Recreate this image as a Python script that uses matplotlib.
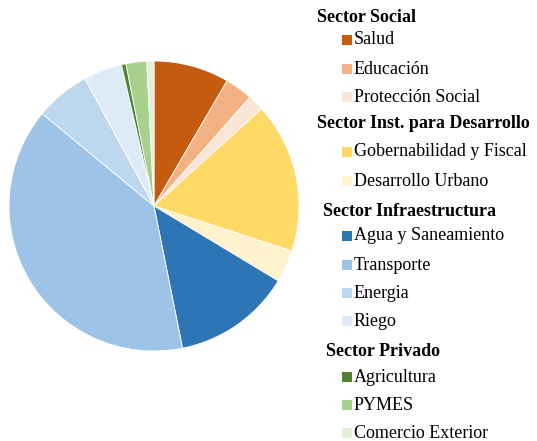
import matplotlib
matplotlib.use("Agg")
import matplotlib.pyplot as plt
from matplotlib.patches import Rectangle

# sector groups and their subsectors (shares in %)
groups = ["Sector Social", "Sector Inst. para Desarrollo", "Sector Infraestructura", "Sector Privado"]
labels = [
    ["Salud", "Educación", "Protección Social"],
    ["Gobernabilidad y Fiscal", "Desarrollo Urbano"],
    ["Agua y Saneamiento", "Transporte", "Energia", "Riego"],
    ["Agricultura", "PYMES", "Comercio Exterior"],
]
values = [
    [8.4, 3.1, 1.8],
    [16.7, 3.6],
    [13.2, 39.1, 6.1, 4.3],
    [0.5, 2.3, 0.8],
]
colors = [
    ["#C55A11", "#F4B183", "#FBE5D6"],
    ["#FFD966", "#FFF2CC"],
    ["#2E75B6", "#9DC3E6", "#BDD7EE", "#DEEBF7"],
    ["#548235", "#A9D18E", "#E2F0D9"],
]

plt.rcParams['font.family'] = ['Liberation Serif', 'DejaVu Serif']

W, H = 537, 441
fig = plt.figure(figsize=(W / 100, H / 100), dpi=100)

# pie axes: center (154, 206) px, radius ~145 px
cx, cy, r = 154, 206, 145
ax = fig.add_axes([(cx - r) / W, 1 - (cy + r) / H, 2 * r / W, 2 * r / H])
vals = [v for g in values for v in g]
cols = [c for g in colors for c in g]
ax.pie(vals, colors=cols, startangle=90, counterclock=False,
       wedgeprops=dict(edgecolor="white", linewidth=0.6))
ax.set_xlim(-1, 1)
ax.set_ylim(-1, 1)
ax.set_aspect("equal")

# legend drawn by hand (group headers + items)
head_x = [317, 317, 323, 326]
head_y = [18, 124, 211, 352]
item_y = [[40, 69, 97], [152, 181], [236, 265, 293, 321], [377, 405, 433]]
for g, name in enumerate(groups):
    fig.text(head_x[g] / W, 1 - head_y[g] / H, name, fontsize=13, fontweight="bold",
             va="center", ha="left")
    for lab, col, y in zip(labels[g], colors[g], item_y[g]):
        fig.patches.append(Rectangle((342 / W, 1 - (y + 5) / H), 10 / W, 10 / H,
                                     transform=fig.transFigure, facecolor=col,
                                     edgecolor="none"))
        fig.text(354 / W, 1 - y / H, lab, fontsize=13, va="center", ha="left")

fig.savefig("out.png", dpi=100)
